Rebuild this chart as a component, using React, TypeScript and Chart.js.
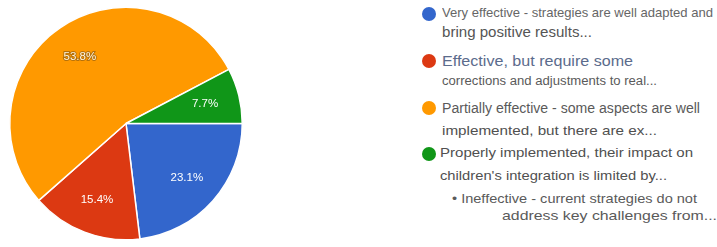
import React, { useEffect, useRef } from "react";
import { Chart, registerables } from "chart.js";

Chart.register(...registerables);

const legendFirstLines = [
  "Very effective - strategies are well adapted and",
  "Effective, but require some",
  "Partially effective - some aspects are well",
  "Properly implemented, their impact on",
  "Ineffective - current strategies do not",
];
const legendSecondLines = [
  "bring positive results...",
  "corrections and adjustments to real...",
  "implemented, but there are ex...",
  "children's integration is limited by...",
  "address key challenges from...",
];
const categories = legendFirstLines.map((a, i) => a + " " + legendSecondLines[i]);
const values = [23.1, 15.4, 53.8, 7.7, 0];
const colors = ["#3366cc", "#dc3912", "#ff9900", "#109618", "#990099"];

const FONT = '"Liberation Sans", Arial, Helvetica, sans-serif';

let measureCtx: CanvasRenderingContext2D | null = null;
function textWidth(text: string, size: number): number {
  if (!measureCtx) measureCtx = document.createElement("canvas").getContext("2d");
  if (!measureCtx) return 1;
  measureCtx.font = `${size}px ${FONT}`;
  return measureCtx.measureText(text).width || 1;
}

// layout (positions, sizes, styles) of the legend
const legendLayout = [
  { dot: [429, 14], lines: [{ x: 442, b: 17.5, s: 13, w: 271, c: "#666" }, { x: 442, b: 37.5, s: 14.5, w: 150, c: "#555" }] },
  { dot: [429, 60.5], lines: [{ x: 442, b: 65.5, s: 15, w: 191, c: "#5b6b8c" }, { x: 442, b: 85.5, s: 12.5, w: 215, c: "#5a5a5a" }] },
  { dot: [429, 107.5], lines: [{ x: 442, b: 112.5, s: 14, w: 258, c: "#5a5a5a" }, { x: 442, b: 135, s: 13.5, w: 215, c: "#505050" }] },
  { dot: [429, 153.5], lines: [{ x: 440, b: 157.5, s: 13, w: 253, c: "#505050" }, { x: 440, b: 180, s: 13.5, w: 227, c: "#505050" }] },
  { dot: [429, 199], lines: [{ x: 452, b: 203, s: 13, w: 245, c: "#5a5a5a" }, { x: 502, b: 220.5, s: 13.5, w: 215, c: "#5a5a5a" }] },
];

const sliceLabelPlugin = {
  id: "sliceLabels",
  afterDatasetsDraw(chart: any) {
    const ctx: CanvasRenderingContext2D = chart.ctx;
    const meta = chart.getDatasetMeta(0);
    const data = chart.data.datasets[0].data as number[];
    const total = data.reduce((a, b) => a + b, 0);
    ctx.save();
    ctx.font = `11.5px ${FONT}`;
    ctx.textAlign = "center";
    ctx.textBaseline = "middle";
    meta.data.forEach((arc: any, i: number) => {
      const v = data[i];
      if (!v) return;
      const p = arc.getProps(["x", "y", "startAngle", "endAngle", "outerRadius"], true);
      const mid = (p.startAngle + p.endAngle) / 2;
      const r = p.outerRadius * 0.7;
      const x = p.x + Math.cos(mid) * r;
      const y = p.y + Math.sin(mid) * r;
      const txt = ((v / total) * 100).toFixed(1) + "%";
      if (i === 2) {
        ctx.lineWidth = 2;
        ctx.strokeStyle = "rgba(120,80,20,0.55)";
        ctx.strokeText(txt, x, y);
        ctx.fillStyle = "#fff6e0";
      } else {
        ctx.fillStyle = "#ffffff";
      }
      ctx.fillText(txt, x, y);
    });
    ctx.restore();
  },
};

export default function App() {
  const canvasRef = useRef<HTMLCanvasElement | null>(null);

  useEffect(() => {
    document.body.style.margin = "0";
    const el = canvasRef.current;
    if (!el) return;
    const chart = new Chart(el, {
      type: "pie",
      data: {
        labels: categories,
        datasets: [
          {
            data: values,
            backgroundColor: colors,
            borderColor: "#ffffff",
            borderWidth: 1.5,
          },
        ],
      },
      options: {
        animation: false,
        responsive: true,
        maintainAspectRatio: false,
        rotation: 90,
        layout: { padding: { left: 9, right: 9, top: 6.5, bottom: 6.5 } },
        plugins: {
          legend: { display: false },
          tooltip: { enabled: false },
        },
      },
      plugins: [sliceLabelPlugin],
    });
    return () => chart.destroy();
  }, []);

  return (
    <div style={{ position: "relative", width: 717, height: 247, background: "#fff", overflow: "hidden", fontFamily: FONT }}>
      <div style={{ position: "absolute", left: 0, top: 0, width: 252, height: 247 }}>
        <canvas ref={canvasRef} />
      </div>
      {legendLayout.map((item, i) => {
        const hasDot = values[i] > 0;
        const texts = [hasDot ? legendFirstLines[i] : "\u2022 " + legendFirstLines[i], legendSecondLines[i]];
        return (
          <React.Fragment key={i}>
            {hasDot && (
              <div
                style={{
                  position: "absolute",
                  left: item.dot[0] - 7,
                  top: item.dot[1] - 7,
                  width: 14,
                  height: 14,
                  borderRadius: "50%",
                  background: colors[i],
                }}
              />
            )}
            {item.lines.map((ln, j) => {
              const mw = textWidth(texts[j], ln.s);
              return (
                <span
                  key={j}
                  style={{
                    position: "absolute",
                    left: ln.x,
                    top: ln.b - 0.8465 * ln.s,
                    fontSize: ln.s,
                    lineHeight: `${ln.s}px`,
                    whiteSpace: "nowrap",
                    color: ln.c,
                    transform: `scaleX(${ln.w / mw})`,
                    transformOrigin: "left center",
                  }}
                >
                  {texts[j]}
                </span>
              );
            })}
          </React.Fragment>
        );
      })}
    </div>
  );
}
